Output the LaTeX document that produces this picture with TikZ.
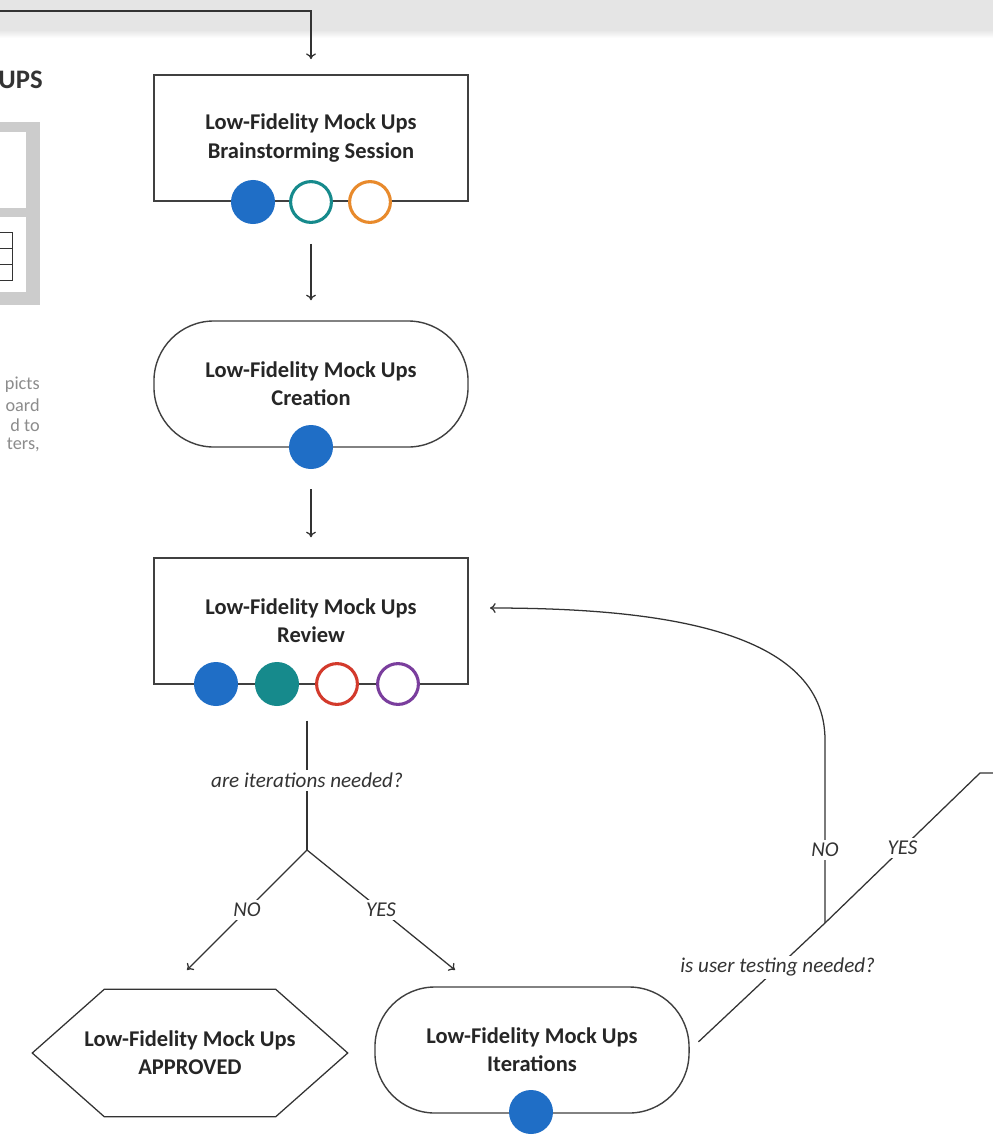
\documentclass[tikz,border=0pt]{standalone}
\usepackage{fontspec}
\setmainfont{Carlito}
\usepackage{xcolor}
\usepackage{tikz}
\usetikzlibrary{arrows, arrows.meta}
\definecolor{mblue}{HTML}{1F6EC6}
\definecolor{mteal}{HTML}{168A8C}
\definecolor{morange}{HTML}{E88A2C}
\definecolor{mred}{HTML}{D33A2C}
\definecolor{mpurple}{HTML}{7A3E9D}
\tikzstyle{task} = [rectangle, minimum width=7.85cm, minimum height=3.15cm, align=center, draw=black!75, line width=1pt, text=black!85, font=\fontsize{16pt}{20pt}\selectfont\bfseries]
\tikzstyle{work} = [task, rounded corners=1.5cm]
\tikzstyle{done} = [task, draw=none]
\tikzstyle{fulldot} = [circle, minimum size=1.1cm, inner sep=0pt]
\tikzstyle{ringdot} = [circle, minimum size=1.02cm, inner sep=0pt, line width=2.2pt, fill=white]
\tikzstyle{arrow} = [line width=0.9pt, draw=black!80, ->, >={To[length=4pt, width=7pt]}]
\tikzstyle{line} = [line width=0.9pt, draw=black!80]
\tikzstyle{ask} = [fill=white, inner sep=2pt, text=black!80, font=\fontsize{15pt}{18pt}\selectfont\itshape]
\tikzstyle{scrap} = [anchor=east, inner sep=0pt, text=black!45, font=\fontsize{13pt}{15pt}\selectfont]

\begin{document}
\begin{tikzpicture}[x=0.025cm, y=-0.025cm]
	\clip (0,0) rectangle (993,1138);
	\fill[white] (0,0) rectangle (993,1138);
	
	% band at the top and what shows of the left column
	\fill[gray!20] (0,0) rectangle (993,30);
	\shade[top color=gray!20, bottom color=white] (0,30) rectangle (993,38);
	\node (ups) [anchor=east, inner sep=0pt, text=black!80, font=\fontsize{19pt}{22pt}\selectfont\bfseries] at (43,80) {UPS};
	\fill[gray!40] (-10,122) rectangle (40,305);
	\fill[white] (-10,132) rectangle (26,208);
	\fill[white] (-10,217) rectangle (26,292);
	\draw[black!80, line width=0.6pt] (-10,232) rectangle (12,280) (-10,248) -- (12,248) (-10,264) -- (12,264);
	\node (t1) [scrap] at (40,385) {picts};
	\node (t2) [scrap] at (40,405) {oard};
	\node (t3) [scrap] at (40,425) {d to};
	\node (t4) [scrap] at (40,445) {ters,};
	
	\node (p1) [task] at (311,138) {Low-Fidelity Mock Ups\\Brainstorming Session};
	\node (p2) [work] at (311,384) {Low-Fidelity Mock Ups\\Creation};
	\node (p3) [task] at (311,621) {Low-Fidelity Mock Ups\\Review};
	\node (p4) [done] at (190,1053) {Low-Fidelity Mock Ups\\APPROVED};
	\node (p5) [work] at (532,1050) {Low-Fidelity Mock Ups\\Iterations};
	
	\draw [line] (p4.west) -- ([xshift=1.8cm]p4.north west) -- ([xshift=-1.8cm]p4.north east) -- (p4.east) -- ([xshift=-1.8cm]p4.south east) -- ([xshift=1.8cm]p4.south west) -- cycle;
	
	\node (b1) [fulldot, fill=mblue] at (253,202) {};
	\node (b2) [ringdot, draw=mteal] at (311,202) {};
	\node (b3) [ringdot, draw=morange] at (370,202) {};
	
	\node (c1) [fulldot, fill=mblue] at (311,447) {};
	
	\node (r1) [fulldot, fill=mblue] at (216,684) {};
	\node (r2) [fulldot, fill=mteal] at (277,684) {};
	\node (r3) [ringdot, draw=mred] at (337,684) {};
	\node (r4) [ringdot, draw=mpurple] at (398,684) {};
	
	\node (d1) [fulldot, fill=mblue] at (531,1112) {};
	
	\coordinate (in1) at (-10,11);
	\coordinate (s1) at (307,850);
	\coordinate (n1) at (187,970);
	\coordinate (y1) at (455,970);
	\coordinate (s2) at (825,923);
	\coordinate (k1) at (980,773);
	\coordinate (out1) at (1010,773);
	\coordinate (k2) at (825,740);
	\coordinate (back1) at (490,608);
	
	\draw [arrow, shorten >=0.38cm] (in1) -| (p1.north);
	\draw [arrow, shorten <=0.5cm, shorten >=0.5cm] (b2) -- (p2);
	\draw [arrow, shorten <=0.5cm, shorten >=0.5cm] (c1) -- (p3);
	
	\draw [line, shorten <=0.9cm] (p3.south -| s1) -- node[ask, pos=0.58] {are iterations needed?} (s1);
	\draw [arrow] (s1) -- node[ask] {NO} (n1);
	\draw [arrow] (s1) -- node[ask] {YES} (y1);
	
	\draw [line, shorten <=0.3cm] (p5.east) -- node[ask, pos=0.65] {is user testing needed?} (s2);
	\draw [line] (s2) -- node[ask] {YES} (k1) -- (out1);
	\draw [arrow] (s2) -- node[ask, pos=0.4] {NO} (k2) .. controls (825,630) and (660,608) .. (back1);
	
\end{tikzpicture}
\end{document}
